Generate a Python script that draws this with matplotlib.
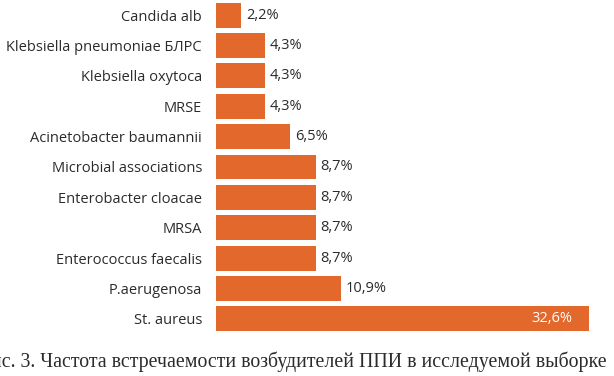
import matplotlib
matplotlib.use("Agg")
import matplotlib.pyplot as plt

# данные с рисунка
organisms = ["Candida alb", "Klebsiella pneumoniae БЛРС", "Klebsiella oxytoca", "MRSE",
             "Acinetobacter baumannii", "Microbial associations", "Enterobacter cloacae",
             "MRSA", "Enterococcus faecalis", "P.aerugenosa", "St. aureus"]
percent = [2.2, 4.3, 4.3, 4.3, 6.5, 8.7, 8.7, 8.7, 8.7, 10.9, 32.6]
labels = ["2,2%", "4,3%", "4,3%", "4,3%", "6,5%", "8,7%", "8,7%", "8,7%", "8,7%", "10,9%", "32,6%"]
caption = "Рис. 3. Частота встречаемости возбудителей ППИ в исследуемой выборке"

bar_color = "#e2682b"
text_color = "#2b2b2b"

fig = plt.figure(figsize=(6.14, 3.76), dpi=100)
ax = fig.add_axes([216 / 614, 1 - 334 / 376, 395 / 614, 334 / 376])

y = list(range(len(organisms)))
ax.barh(y, percent, height=0.82, color=bar_color)
ax.set_ylim(len(organisms) - 0.5, -0.5)
ax.set_xlim(0, 34.5)

ax.set_yticks(y)
ax.set_yticklabels(organisms, fontsize=10.5, color=text_color, family="Open Sans")
ax.tick_params(axis="y", length=0, pad=10)
ax.set_xticks([])
for s in ax.spines.values():
    s.set_visible(False)

for i, (v, lab) in enumerate(zip(percent, labels)):
    if v > 30:
        ax.text(v - 1.5, i, lab, ha="right", va="center", fontsize=10.5,
                color="white", family="Open Sans")
    else:
        ax.text(v + 0.4, i, lab, ha="left", va="center", fontsize=10.5,
                color=text_color, family="Open Sans")

# подпись обрезана краями картинки, как в оригинале
fig.text(-0.032, 1 - 362 / 376, caption, ha="left", va="center", fontsize=14.3,
         color=text_color, family="Liberation Serif")

fig.savefig("out.png", dpi=100)
